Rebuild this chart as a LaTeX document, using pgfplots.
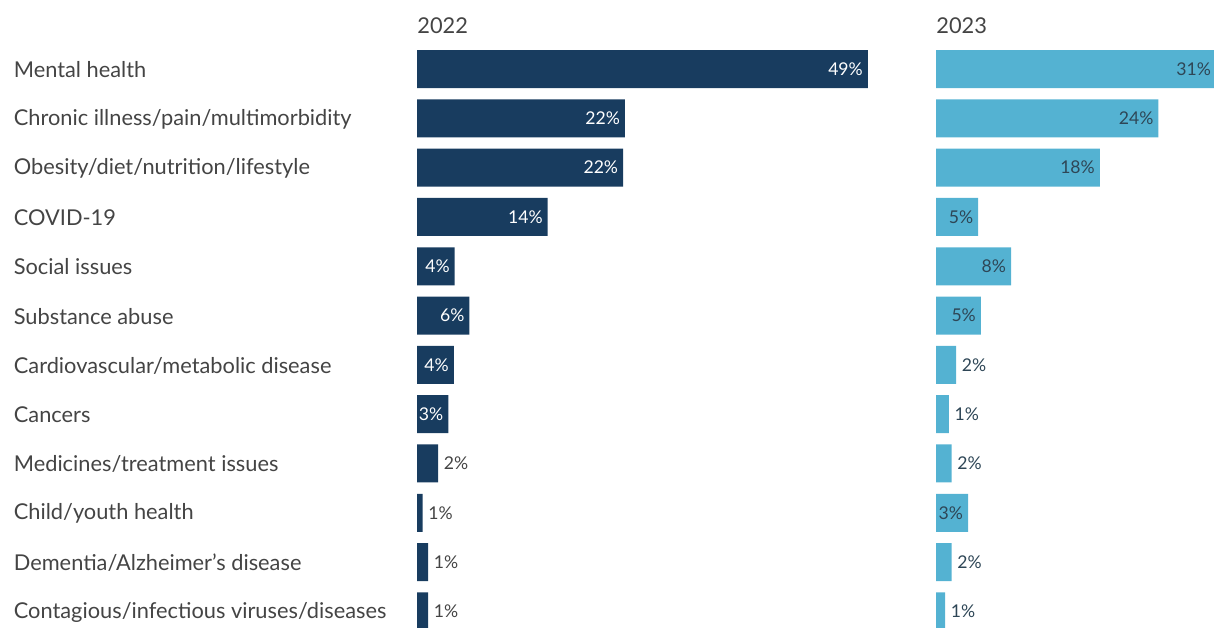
\documentclass[border=0pt]{standalone}
\usepackage{pgfplots}
\pgfplotsset{compat=1.18}
\usepackage{fontspec}
\setmainfont{Lato}
\definecolor{navy}{HTML}{183C5F}
\definecolor{lblue}{HTML}{54B2D2}
\definecolor{txt}{HTML}{444444}
\definecolor{dtxt}{HTML}{2E4656}
\begin{document}
\begin{tikzpicture}
\pgfplotsset{
  base/.style={
    xbar, bar width=19pt, bar shift=0pt,
    y dir=reverse, y=24.65pt,
    ymin=-0.5, ymax=11.5, xmin=0,
    enlargelimits=false, clip=false,
    axis line style={draw=none}, tick style={draw=none},
    xtick=\empty,
    point meta=explicit symbolic,
    nodes near coords={\pgfplotspointmeta\%},
    every node near coord/.append style={font=\fontsize{8.8}{10}\selectfont},
  },
  inlab/.style={every node near coord/.append style={anchor=east, xshift=-0.5pt, inner xsep=1.8pt}},
  outlab/.style={every node near coord/.append style={anchor=west, xshift=0.5pt, inner xsep=2.2pt}},
}
\begin{scope}
\clip (0,0) rectangle (607pt,313.5pt);
\begin{axis}[base, x=4.6pt, xmax=50,
  at={(208.5pt,291.3pt)}, anchor=north west,
  ytick={0,...,11},
  yticklabels={Mental health,Chronic illness/pain/multimorbidity,Obesity/diet/nutrition/lifestyle,COVID-19,Social issues,Substance abuse,Cardiovascular/metabolic disease,Cancers,Medicines/treatment issues,Child/youth health,Dementia/Alzheimer's disease,Contagious/infectious viruses/diseases},
  yticklabel style={anchor=west, xshift=-197.5pt, yshift=-0.4pt, inner xsep=0pt, text=txt, font=\fontsize{10.9}{12}\selectfont},
]
\addplot[fill=navy, draw=none, inlab, nodes near coords style={text=white}] coordinates {
(49.0,0) [49] (22.6,1) [22] (22.4,2) [22] (14.2,3) [14] (4.1,4) [4] (5.7,5) [6] (4.0,6) [4] (3.4,7) [3]};
\addplot[fill=navy, draw=none, outlab, nodes near coords style={text=txt}] coordinates {
(2.3,8) [2] (0.6,9) [1] (1.2,10) [1] (1.2,11) [1]};
\end{axis}
\begin{axis}[base, x=4.575pt, xmax=40,
  at={(468pt,291.3pt)}, anchor=north west,
  ytick=\empty,
]
\addplot[fill=lblue, draw=none, inlab, nodes near coords style={text=dtxt}] coordinates {
(30.6,0) [31] (24.3,1) [24] (17.9,2) [18] (4.6,3) [5] (8.2,4) [8] (4.9,5) [5] (3.5,9) [3]};
\addplot[fill=lblue, draw=none, outlab, nodes near coords style={text=dtxt}] coordinates {
(2.2,6) [2] (1.4,7) [1] (1.7,8) [2] (1.7,10) [2] (1.0,11) [1]};
\end{axis}
\node[anchor=base west, inner sep=0pt, text=txt, font=\fontsize{10.9}{12}\selectfont] at (208.5pt,296.5pt) {2022};
\node[anchor=base west, inner sep=0pt, text=txt, font=\fontsize{10.9}{12}\selectfont] at (468pt,296.5pt) {2023};
\end{scope}
\pgfresetboundingbox
\useasboundingbox (0,0) rectangle (607pt,313.5pt);
\end{tikzpicture}
\end{document}
